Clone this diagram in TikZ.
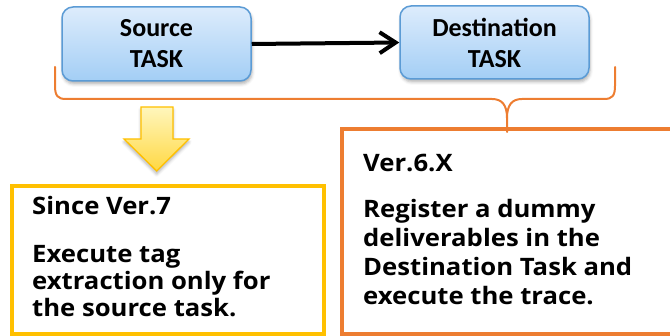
\documentclass[tikz,border=0pt]{standalone}
\usepackage{fontspec}
\setmainfont{Open Sans}[FakeStretch=1.07]
\newfontfamily\taskfont{Carlito}
\usetikzlibrary{arrows.meta,shadows.blur}
\definecolor{taskfillTop}{HTML}{DDECFC}
\definecolor{taskfillBot}{HTML}{A3CEF5}
\definecolor{taskline}{HTML}{5B9BD5}
\definecolor{accorange}{HTML}{ED7D31}
\definecolor{accyellow}{HTML}{FFC000}
\definecolor{arrowTop}{HTML}{FFF6BC}
\definecolor{arrowBot}{HTML}{FFD843}
\tikzset{
  taskbox/.style={draw=taskline, line width=1.5pt, rounded corners=11pt,
    top color=taskfillTop, bottom color=taskfillBot,
    minimum width=189pt, minimum height=74pt, align=center,
    font=\taskfont\bfseries\fontsize{26}{31}\selectfont, text=black,
    blur shadow={shadow xshift=1pt, shadow yshift=-3pt, shadow blur radius=3pt, shadow opacity=30}},
  noteline/.style={anchor=base west, inner sep=0pt, font=\bfseries\fontsize{24}{29}\selectfont, text=black},
  brace/.style={draw=accorange, line width=2pt, line cap=round},
}
\begin{document}
\begin{tikzpicture}[x=1pt,y=-1pt]
\useasboundingbox (0,0) rectangle (670,336);
\clip (0,0) rectangle (670,336);
% task boxes and the link between them
\node[taskbox] (src) at (156.5,44) {Source\\TASK};
\node[taskbox, minimum height=73pt] (dst) at (494.5,42.5) {Destination\\TASK};
\draw[line width=4pt, -{Straight Barb[length=16pt,width=21pt,line width=4pt]}] (src.east) -- (dst.west);
% version notes
\draw[draw=accyellow, line width=4pt] (12,186) rectangle (324,334);
\draw[draw=accorange, line width=4.5pt] (342,129) rectangle (690,334);
% brace over both tasks
\coordinate (bl) at (55,67);
\coordinate (br) at (615,67);
\coordinate (bt) at (507,132);
\draw[brace] (bl) -- (55,86) .. controls (55,96) and (58,99) .. (66,99) -- (492,99)
  .. controls (502,99) and (507,105) .. (507,118) -- (bt);
\draw[brace] (507,118) .. controls (507,105) and (512,99) .. (522,99) -- (604,99)
  .. controls (612,99) and (615,96) .. (615,86) -- (br);
% down arrow
\path[draw=accyellow, line width=1.3pt, top color=arrowTop, bottom color=arrowBot,
  blur shadow={shadow xshift=0pt, shadow yshift=-3pt, shadow blur radius=3pt, shadow opacity=30}]
  (141,107) -- (173,107) -- (173,139) -- (189,139) -- (156.7,171) -- (124,139) -- (141,139) -- cycle;
% texts
\node[noteline] (y0) at (32,215) {Since Ver.7};
\node[noteline] (y1) at (32,263) {Execute tag};
\node[noteline] (y2) at (32,290) {extraction only for};
\node[noteline] (y3) at (32,317) {the source task.};
\node[noteline] (o0) at (363,172) {Ver.6.X};
\node[noteline] (o1) at (363,218) {Register a dummy};
\node[noteline] (o2) at (363,247) {deliverables in the};
\node[noteline] (o3) at (363,276) {Destination Task and};
\node[noteline] (o4) at (363,305) {execute the trace.};
\end{tikzpicture}
\end{document}
